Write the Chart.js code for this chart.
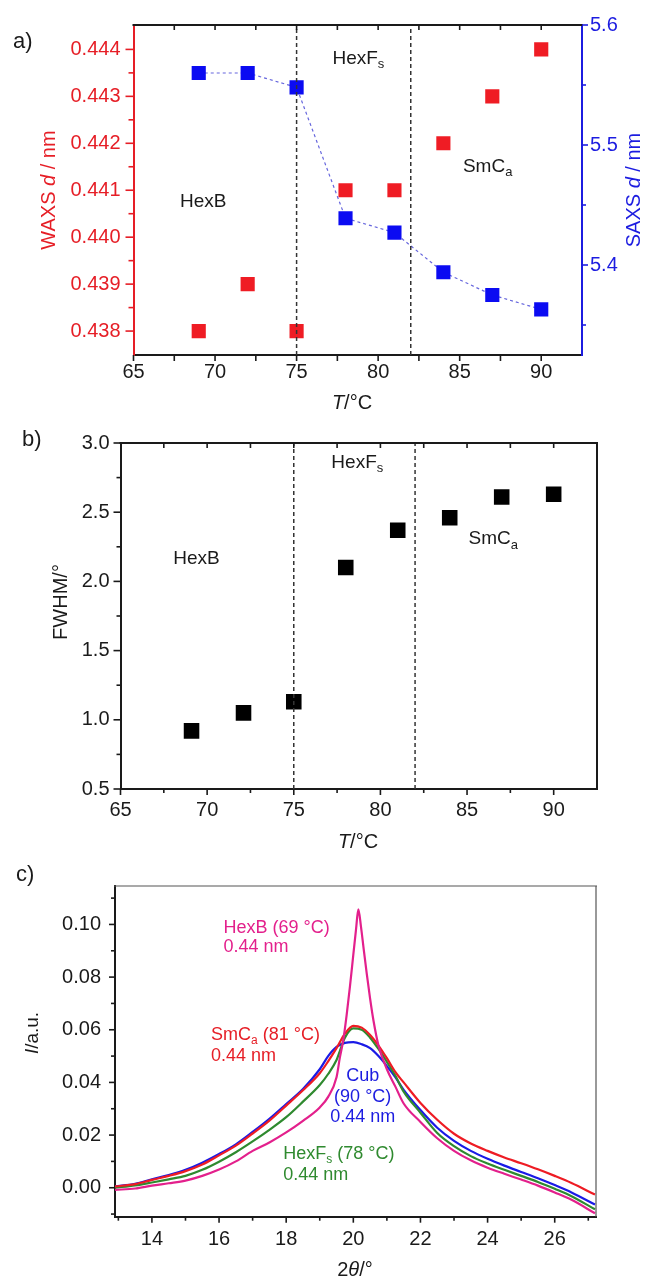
<!DOCTYPE html>
<html>
<head>
<meta charset="utf-8">
<script src="https://cdn.jsdelivr.net/npm/chart.js"></script>
<style>
  html, body { margin: 0; padding: 0; background: #fff; }
  canvas { position: absolute; left: 0; }
</style>
</head>
<body>
<canvas id="chartA" width="645" height="420" style="top:0px"></canvas>
<canvas id="chartB" width="645" height="440" style="top:420px"></canvas>
<canvas id="chartC" width="645" height="418" style="top:860px"></canvas>
<script>
// ---- panel a : d-spacings vs temperature ----
const tempA = [69, 72, 75, 78, 81, 84, 87, 90];
const waxsD = [0.438, 0.439, 0.438, 0.441, 0.441, 0.442, 0.443, 0.444];
const saxsD = [5.560, 5.560, 5.548, 5.439, 5.427, 5.394, 5.375, 5.363];
const phaseBounds = [75, 82];
const tempTicks = [65, 70, 75, 80, 85, 90];
const waxsTicks = [0.438, 0.439, 0.440, 0.441, 0.442, 0.443, 0.444];
const saxsTicks = [5.4, 5.5, 5.6];

// ---- panel b : FWHM vs temperature ----
const tempB = [69.1, 72.1, 75.0, 78.0, 81.0, 84.0, 87.0, 90.0];
const fwhm = [0.92, 1.05, 1.13, 2.10, 2.37, 2.46, 2.61, 2.63];
const fwhmTicks = [0.5, 1.0, 1.5, 2.0, 2.5, 3.0];

// ---- panel c : WAXS profiles ----
const twoTheta = [12.9, 13.5, 14.0, 14.5, 15.0, 15.5, 16.0, 16.5, 17.0, 17.5, 18.0, 18.5, 19.0, 19.25, 19.5, 19.75,
  20.0, 20.25, 20.5, 20.75, 21.0, 21.25, 21.5, 22.0, 22.5, 23.0, 23.5, 24.0, 24.5, 25.0, 25.5, 26.0, 26.5, 27.2];
const iSmCa = [0.0005, 0.0014, 0.0030, 0.0045, 0.0063, 0.0088, 0.0123, 0.0160, 0.0206, 0.0255, 0.0312, 0.0370, 0.0435, 0.0480, 0.0530, 0.0585,
  0.0615, 0.0608, 0.0580, 0.0540, 0.0492, 0.0440, 0.0400, 0.0322, 0.0258, 0.0205, 0.0168, 0.0140, 0.0115, 0.0093, 0.0070, 0.0045, 0.0018, -0.0026];
const iCub = [0.0005, 0.0015, 0.0032, 0.0048, 0.0068, 0.0095, 0.0128, 0.0165, 0.0212, 0.0262, 0.0318, 0.0375, 0.0450, 0.0500, 0.0535, 0.0550,
  0.0553, 0.0545, 0.0530, 0.0500, 0.0462, 0.0420, 0.0372, 0.0295, 0.0228, 0.0178, 0.0140, 0.0110, 0.0084, 0.0060, 0.0036, 0.0010, -0.0018, -0.0064];
const iHexFs = [0.0000, 0.0009, 0.0020, 0.0032, 0.0045, 0.0068, 0.0099, 0.0135, 0.0176, 0.0220, 0.0268, 0.0327, 0.0390, 0.0432, 0.0485, 0.0570,
  0.0605, 0.0600, 0.0570, 0.0527, 0.0478, 0.0426, 0.0365, 0.0285, 0.0208, 0.0158, 0.0120, 0.0092, 0.0068, 0.0045, 0.0022, -0.0004, -0.0032, -0.0082];
const twoThetaHexB = [12.9, 13.5, 14.0, 14.5, 15.0, 15.5, 16.0, 16.5, 17.0, 17.5, 18.0, 18.5, 19.0, 19.25, 19.5, 19.6, 19.7, 19.8, 19.9, 20.0, 20.08,
  20.15, 20.23, 20.31, 20.4, 20.5, 20.6, 20.75, 21.0, 21.25, 21.5, 22.0, 22.5, 23.0, 23.5, 24.0, 24.5, 25.0, 25.5, 26.0, 26.5, 27.2];
const iHexB = [-0.0008, -0.0003, 0.0008, 0.0017, 0.0027, 0.0045, 0.0069, 0.0100, 0.0140, 0.0172, 0.0210, 0.0254, 0.0305, 0.0345, 0.0420, 0.0495, 0.0560, 0.0655, 0.0765, 0.0885, 0.0980,
  0.1057, 0.0990, 0.0905, 0.0813, 0.0718, 0.0635, 0.0540, 0.0450, 0.0385, 0.0320, 0.0250, 0.0188, 0.0140, 0.0104, 0.0076, 0.0053, 0.0031, 0.0008, -0.0018, -0.0046, -0.0097];
const thetaTicks = [14, 16, 18, 20, 22, 24, 26];
const intensityTicks = [0.00, 0.02, 0.04, 0.06, 0.08, 0.10];

const FAMILY = '"Liberation Sans", Arial, sans-serif';
const RED = '#e61e26';
const BLUE = '#1c1ce0';
const INK = '#1a1a1a';
Chart.defaults.font.family = FAMILY;

// split "WAXS *d* / nm" or "HexF_s" into styled pieces
function parseLabel(str) {
  const parts = [];
  let buf = '', italic = false;
  for (let i = 0; i < str.length; i++) {
    const ch = str[i];
    if (ch === '*') {
      if (buf) parts.push({ s: buf, i: italic });
      buf = ''; italic = !italic;
    } else if (ch === '_') {
      if (buf) parts.push({ s: buf, i: italic });
      buf = '';
      parts.push({ s: str[i + 1], i: italic, sub: true });
      i++;
    } else {
      buf += ch;
    }
  }
  if (buf) parts.push({ s: buf, i: italic });
  return parts;
}

function drawLabel(ctx, x, y, t) {
  const size = t.size || 19;
  const parts = parseLabel(t.s);
  const fontFor = (p) => (p.i ? 'italic ' : '') + (p.sub ? Math.round(size * 0.66) : size) + 'px ' + FAMILY;
  ctx.save();
  ctx.fillStyle = t.color || INK;
  ctx.textBaseline = 'middle';
  ctx.textAlign = 'left';
  let w = 0;
  parts.forEach(p => { ctx.font = fontFor(p); w += ctx.measureText(p.s).width; });
  ctx.translate(x, y);
  if (t.rot) ctx.rotate(t.rot);
  let cx = t.align === 'center' ? -w / 2 : 0;
  parts.forEach(p => {
    ctx.font = fontFor(p);
    ctx.fillText(p.s, cx, p.sub ? size * 0.32 : 0);
    cx += ctx.measureText(p.s).width;
  });
  ctx.restore();
}

// frame sides, tick marks and texts for every panel
const decorSpecs = {};
const decor = {
  id: 'decor',
  afterDatasetsDraw(chart) {
    const spec = decorSpecs[chart.canvas.id];
    if (!spec) return;
    const ctx = chart.ctx;
    const area = chart.chartArea;
    ctx.save();
    (spec.frame || []).forEach(f => {
      ctx.strokeStyle = f.color;
      ctx.lineWidth = f.width;
      ctx.beginPath();
      if (f.at === 'top') { ctx.moveTo(area.left - 1, area.top); ctx.lineTo(area.right + 1, area.top); }
      if (f.at === 'right') { ctx.moveTo(area.right, area.top); ctx.lineTo(area.right, area.bottom); }
      ctx.stroke();
    });
    (spec.ticks || []).forEach(t => {
      const sc = chart.scales[t.axis];
      const n = Math.round((t.to - t.from) / t.step);
      ctx.strokeStyle = t.color;
      ctx.lineWidth = 1.6;
      for (let k = 0; k <= n; k++) {
        const v = t.from + k * t.step;
        const isMajor = Math.abs(v / t.major - Math.round(v / t.major)) < 1e-6;
        const len = isMajor ? t.len : t.minorLen;
        const p = sc.getPixelForValue(v);
        ctx.beginPath();
        if (t.side === 'bottom') { ctx.moveTo(p, area.bottom); ctx.lineTo(p, area.bottom + len); }
        if (t.side === 'top') { ctx.moveTo(p, area.top); ctx.lineTo(p, area.top + len); }
        if (t.side === 'left') { ctx.moveTo(area.left, p); ctx.lineTo(area.left - len, p); }
        if (t.side === 'right') { ctx.moveTo(area.right, p); ctx.lineTo(area.right + len, p); }
        ctx.stroke();
      }
    });
    (spec.texts || []).forEach(t => {
      let x = t.x, y = t.y;
      if (!t.px) {
        x = chart.scales[t.xAxis || 'x'].getPixelForValue(t.x);
        y = chart.scales[t.yAxis || 'y'].getPixelForValue(t.y);
      }
      drawLabel(ctx, x, y, t);
    });
    ctx.restore();
  }
};
Chart.register(decor);

const fixedTicks = (values) => (scale) => { scale.ticks = values.map(v => ({ value: v })); };
const noGrid = { display: false, drawTicks: false };
const tickFont = { size: 20, family: FAMILY };
const pairs = (xs, ys) => xs.map((x, i) => ({ x: x, y: ys[i] }));

// ================= panel a =================
const waxsMin = 0.43749, waxsMax = 0.44452;
decorSpecs.chartA = {
  frame: [{ at: 'top', color: INK, width: 2 }],
  ticks: [
    { axis: 'x', side: 'bottom', from: 65, to: 90, step: 2.5, major: 5, len: 6, minorLen: 6, color: INK },
    { axis: 'x', side: 'top', from: 67.5, to: 90, step: 2.5, major: 5, len: 5, minorLen: 5, color: INK },
    { axis: 'y', side: 'left', from: 0.438, to: 0.444, step: 0.0005, major: 0.001, len: 8, minorLen: 5, color: RED },
    { axis: 'y2', side: 'right', from: 5.35, to: 5.6, step: 0.05, major: 0.1, len: 6, minorLen: 4, color: BLUE }
  ],
  texts: [
    { px: true, x: 13, y: 42, s: 'a)', size: 22 },
    { px: true, x: 49, y: 190, s: 'WAXS *d* / nm', size: 20, color: RED, rot: -Math.PI / 2, align: 'center' },
    { px: true, x: 634, y: 190, s: 'SAXS *d* / nm', size: 20, color: BLUE, rot: -Math.PI / 2, align: 'center' },
    { px: true, x: 352, y: 403, s: '*T*/°C', size: 20, align: 'center' },
    { x: 67.85, y: 0.44075, s: 'HexB' },
    { x: 77.2, y: 0.44381, s: 'HexF_s' },
    { x: 85.2, y: 0.4415, s: 'SmC_a' }
  ]
};

new Chart(document.getElementById('chartA'), {
  type: 'scatter',
  data: {
    datasets: [
      ...phaseBounds.map(t => ({
        data: [{ x: t, y: waxsMin }, { x: t, y: waxsMax }],
        showLine: true, borderColor: '#333', borderWidth: 1.5, borderDash: [4, 3], pointRadius: 0, yAxisID: 'y'
      })),
      {
        data: pairs(tempA, waxsD), yAxisID: 'y',
        pointStyle: 'rect', pointRadius: 10, backgroundColor: '#ef1c24', borderColor: '#ef1c24', borderWidth: 0
      },
      {
        data: pairs(tempA, saxsD), yAxisID: 'y2', showLine: true,
        borderColor: '#6666dd', borderWidth: 1.2, borderDash: [3, 3],
        pointStyle: 'rect', pointRadius: 10, pointBackgroundColor: '#0b0bf2', pointBorderColor: '#0b0bf2', pointBorderWidth: 0
      }
    ]
  },
  options: {
    responsive: false,
    animation: false,
    layout: { padding: { top: 25, left: 0, right: 0, bottom: 0 } },
    plugins: { legend: { display: false }, tooltip: { enabled: false } },
    scales: {
      x: {
        type: 'linear', position: 'bottom', min: 65, max: 92.5,
        afterBuildTicks: fixedTicks(tempTicks),
        afterFit: (s) => { s.height = 65; },
        grid: noGrid, border: { color: INK, width: 2 },
        ticks: { font: tickFont, color: INK, padding: 5 }
      },
      y: {
        type: 'linear', position: 'left', min: waxsMin, max: waxsMax,
        afterBuildTicks: fixedTicks(waxsTicks),
        afterFit: (s) => { s.width = 133.5; },
        grid: noGrid, border: { color: RED, width: 2 },
        ticks: { font: tickFont, color: RED, padding: 13, callback: (v) => v.toFixed(3) }
      },
      y2: {
        type: 'linear', position: 'right', min: 5.325, max: 5.6,
        afterBuildTicks: fixedTicks(saxsTicks),
        afterFit: (s) => { s.width = 63; },
        grid: noGrid, border: { color: BLUE, width: 2 },
        ticks: { font: tickFont, color: BLUE, padding: 8, callback: (v) => v.toFixed(1) }
      }
    }
  }
});

// ================= panel b =================
const fwhmMin = 0.5, fwhmMax = 3.0;
decorSpecs.chartB = {
  frame: [{ at: 'top', color: INK, width: 2 }, { at: 'right', color: INK, width: 2 }],
  ticks: [
    { axis: 'x', side: 'bottom', from: 65, to: 90, step: 2.5, major: 5, len: 6, minorLen: 4, color: INK },
    { axis: 'x', side: 'top', from: 67.5, to: 90, step: 2.5, major: 5, len: 5, minorLen: 5, color: INK },
    { axis: 'y', side: 'left', from: 0.5, to: 3.0, step: 0.25, major: 0.5, len: 7, minorLen: 4, color: INK }
  ],
  texts: [
    { px: true, x: 22, y: 20, s: 'b)', size: 22 },
    { px: true, x: 61, y: 182, s: 'FWHM/°', size: 20, rot: -Math.PI / 2, align: 'center' },
    { px: true, x: 358, y: 422, s: '*T*/°C', size: 20, align: 'center' },
    { x: 68.04, y: 2.166, s: 'HexB' },
    { x: 77.17, y: 2.857, s: 'HexF_s' },
    { x: 85.09, y: 2.307, s: 'SmC_a' }
  ]
};

new Chart(document.getElementById('chartB'), {
  type: 'scatter',
  data: {
    datasets: [
      ...phaseBounds.map(t => ({
        data: [{ x: t, y: fwhmMin }, { x: t, y: fwhmMax }],
        showLine: true, borderColor: '#333', borderWidth: 1.5, borderDash: [4, 3], pointRadius: 0
      })),
      {
        data: pairs(tempB, fwhm),
        pointStyle: 'rect', pointRadius: 11, backgroundColor: '#000', borderColor: '#000', borderWidth: 0
      }
    ]
  },
  options: {
    responsive: false,
    animation: false,
    layout: { padding: { top: 20, left: 0, right: 48, bottom: 0 } },
    plugins: { legend: { display: false }, tooltip: { enabled: false } },
    scales: {
      x: {
        type: 'linear', position: 'bottom', min: 65, max: 92.5,
        afterBuildTicks: fixedTicks(tempTicks),
        afterFit: (s) => { s.height = 71; },
        grid: noGrid, border: { color: INK, width: 2 },
        ticks: { font: tickFont, color: INK, padding: 9 }
      },
      y: {
        type: 'linear', position: 'left', min: fwhmMin, max: fwhmMax,
        afterBuildTicks: fixedTicks(fwhmTicks),
        afterFit: (s) => { s.width = 120.5; },
        grid: noGrid, border: { color: INK, width: 2 },
        ticks: { font: tickFont, color: INK, padding: 11, callback: (v) => v.toFixed(1) }
      }
    }
  }
});

// ================= panel c =================
const MAGENTA = '#e3208c';
const GREEN = '#2f8a2f';
decorSpecs.chartC = {
  frame: [{ at: 'top', color: '#555', width: 1.2 }, { at: 'right', color: '#555', width: 1.2 }],
  ticks: [
    { axis: 'x', side: 'bottom', from: 13, to: 27, step: 1, major: 2, len: 6, minorLen: 4, color: INK },
    { axis: 'y', side: 'left', from: -0.01, to: 0.11, step: 0.01, major: 0.02, len: 6, minorLen: 4, color: INK }
  ],
  texts: [
    { px: true, x: 16, y: 15, s: 'c)', size: 22 },
    { px: true, x: 33, y: 173, s: '*I*/a.u.', size: 19, rot: -Math.PI / 2, align: 'center' },
    { px: true, x: 355, y: 410, s: '2*θ*/°', size: 20, align: 'center' },
    { x: 16.13, y: 0.0988, s: 'HexB (69 °C)', size: 18, color: MAGENTA },
    { x: 16.13, y: 0.0914, s: '0.44 nm', size: 18, color: MAGENTA },
    { x: 15.76, y: 0.0579, s: 'SmC_a (81 °C)', size: 18, color: RED },
    { x: 15.76, y: 0.0500, s: '0.44 nm', size: 18, color: RED },
    { x: 20.28, y: 0.0425, s: 'Cub', size: 18, color: BLUE, align: 'center' },
    { x: 20.28, y: 0.0343, s: '(90 °C)', size: 18, color: BLUE, align: 'center' },
    { x: 20.28, y: 0.0268, s: '0.44 nm', size: 18, color: BLUE, align: 'center' },
    { x: 17.91, y: 0.0129, s: 'HexF_s (78 °C)', size: 18, color: GREEN },
    { x: 17.91, y: 0.0050, s: '0.44 nm', size: 18, color: GREEN }
  ]
};

const curve = (xs, ys, color) => ({
  data: pairs(xs, ys), showLine: true, borderColor: color, borderWidth: 2.2,
  pointRadius: 0, cubicInterpolationMode: 'monotone'
});

new Chart(document.getElementById('chartC'), {
  type: 'scatter',
  data: {
    datasets: [
      curve(twoThetaHexB, iHexB, MAGENTA),
      curve(twoTheta, iSmCa, '#ee1c24'),
      curve(twoTheta, iHexFs, GREEN),
      curve(twoTheta, iCub, '#1a1ae6')
    ]
  },
  options: {
    responsive: false,
    animation: false,
    layout: { padding: { top: 5, left: 0, right: 49, bottom: 0 } },
    plugins: { legend: { display: false }, tooltip: { enabled: false } },
    scales: {
      x: {
        type: 'linear', position: 'bottom', min: 12.9, max: 27.23,
        afterBuildTicks: fixedTicks(thetaTicks),
        afterFit: (s) => { s.height = 61.3; },
        grid: noGrid, border: { color: INK, width: 2 },
        ticks: { font: tickFont, color: INK, padding: 11 }
      },
      y: {
        type: 'linear', position: 'left', min: -0.011, max: 0.1146,
        afterBuildTicks: fixedTicks(intensityTicks),
        afterFit: (s) => { s.width = 115; },
        grid: noGrid, border: { color: INK, width: 2 },
        ticks: { font: tickFont, color: INK, padding: 14, callback: (v) => v.toFixed(2) }
      }
    }
  }
});
</script>
</body>
</html>
